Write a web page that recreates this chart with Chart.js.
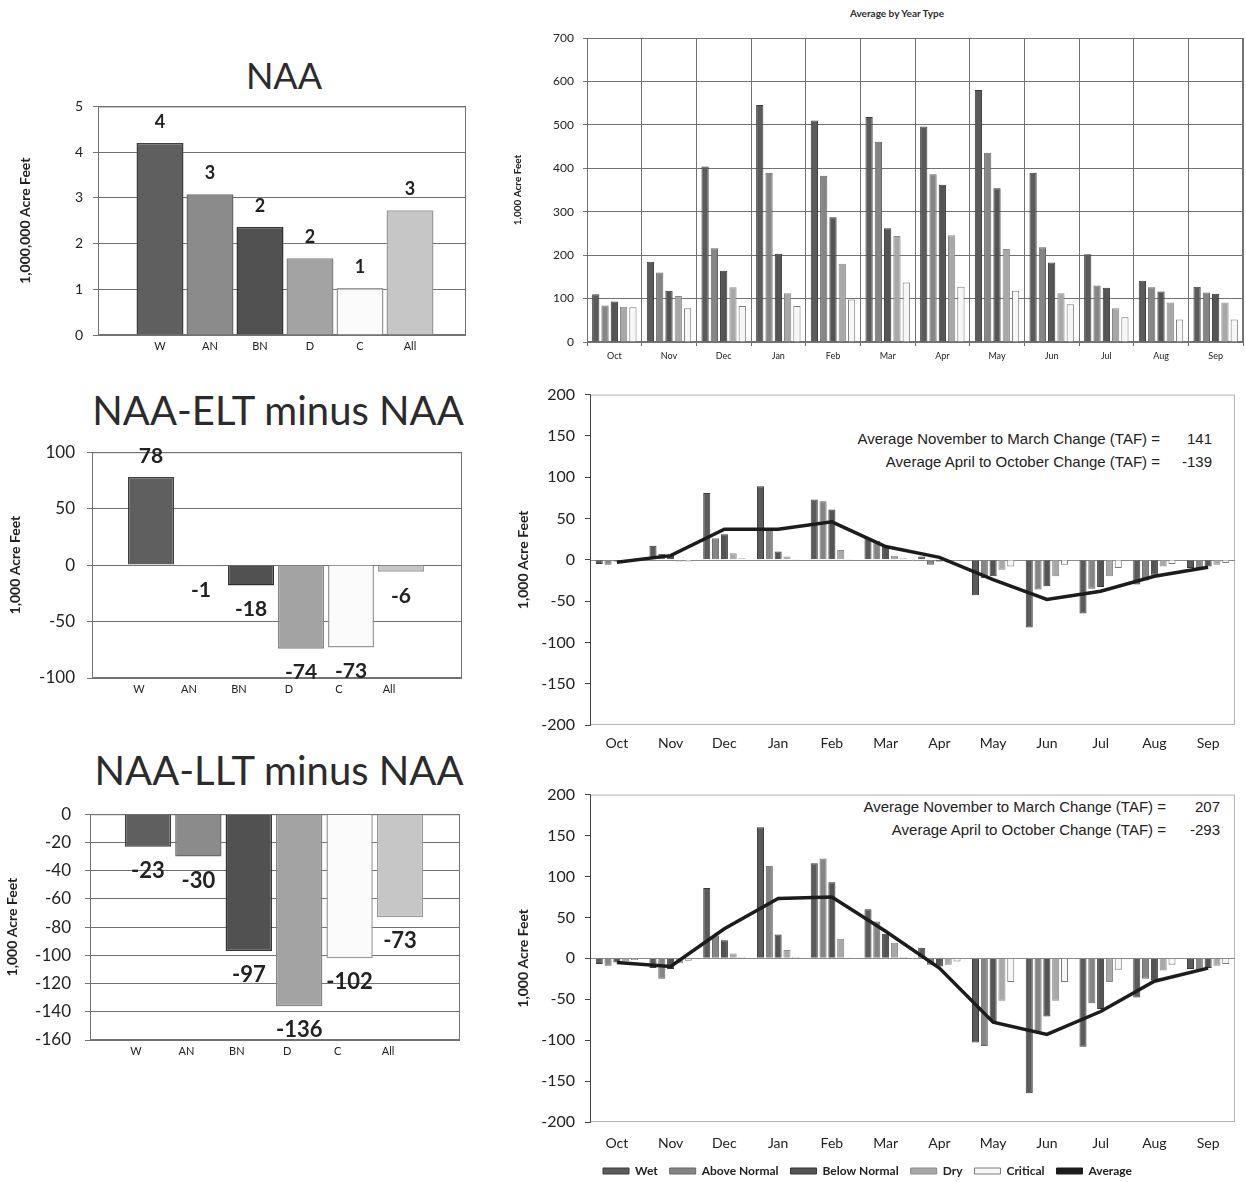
<!DOCTYPE html>
<html>
<head>
<meta charset="utf-8">
<script src="https://cdn.jsdelivr.net/npm/chart.js@4.4.1/dist/chart.umd.min.js"></script>
<style>
  body { margin: 0; background: #fff; width: 1246px; height: 1182px; position: relative; overflow: hidden; }
  canvas { position: absolute; }
  .title { position: absolute; transform: translate(-50%, -50%); white-space: nowrap; color: #2b2b2b; font-family: Lato, sans-serif; }
  .note { position: absolute; transform: translateY(-50%); white-space: nowrap; font-family: "Liberation Sans", Arial, sans-serif; font-size: 15px; color: #222; }
</style>
</head>
<body>
<div class="title" style="left:284px; top:75px; font-size:36px;">NAA</div>
<div class="title" style="left:278px; top:410px; font-size:40px;">NAA-ELT minus NAA</div>
<div class="title" style="left:279px; top:770px; font-size:40px;">NAA-LLT minus NAA</div>
<div class="title" style="left:897px; top:13px; font-size:10px; font-weight:bold;">Average by Year Type</div>

<div class="note" style="right:86px; top:438px;">Average November to March Change (TAF) =</div>
<div class="note" style="right:34px; top:438px;">141</div>
<div class="note" style="right:86px; top:461px;">Average April to October Change (TAF) =</div>
<div class="note" style="right:34px; top:461px;">-139</div>
<div class="note" style="right:80px; top:806px;">Average November to March Change (TAF) =</div>
<div class="note" style="right:26px; top:806px;">207</div>
<div class="note" style="right:80px; top:829px;">Average April to October Change (TAF) =</div>
<div class="note" style="right:26px; top:829px;">-293</div>

<canvas id="naaChart" width="480" height="280" style="left:0; top:88px;"></canvas>
<canvas id="eltChart" width="480" height="280" style="left:0; top:430px;"></canvas>
<canvas id="lltChart" width="480" height="280" style="left:0; top:790px;"></canvas>
<canvas id="monthNaa" width="746" height="368" style="left:500px; top:0;"></canvas>
<canvas id="monthElt" width="746" height="385" style="left:500px; top:375px;"></canvas>
<canvas id="monthLlt" width="746" height="407" style="left:500px; top:775px;"></canvas>

<script>
// Year type totals (left column)
const yearTypes = ['W', 'AN', 'BN', 'D', 'C', 'All'];
const naaTotals = [4.2, 3.08, 2.36, 1.68, 1.03, 2.73];   // 1,000,000 AF
const eltChange = [78, -1, -18, -74, -73, -6];            // 1,000 AF
const lltChange = [-23, -30, -97, -136, -102, -73];       // 1,000 AF

// Monthly values by year type (right column)
const months = ['Oct', 'Nov', 'Dec', 'Jan', 'Feb', 'Mar', 'Apr', 'May', 'Jun', 'Jul', 'Aug', 'Sep'];
const seriesNames = ['Wet', 'Above Normal', 'Below Normal', 'Dry', 'Critical'];

const naaWet      = [110, 185, 404, 546, 510, 518, 496, 580, 390, 202, 141, 127];
const naaAbove    = [84, 160, 216, 390, 383, 461, 386, 436, 218, 130, 126, 114];
const naaBelow    = [93, 118, 164, 203, 287, 262, 362, 354, 183, 125, 116, 111];
const naaDry      = [81, 106, 126, 112, 180, 244, 246, 214, 112, 78, 91, 91];
const naaCritical = [80, 78, 83, 83, 98, 137, 127, 118, 87, 57, 52, 52];

const eltWet      = [-5, 17, 81, 89, 73, 26, 4, -43, -82, -65, -30, -10];
const eltAbove    = [-6, 7, 26, 36, 71, 23, -6, -22, -36, -35, -25, -10];
const eltBelow    = [-2, 5, 31, 10, 61, 16, -2, -20, -32, -33, -18, -8];
const eltDry      = [-1, -2, 8, 4, 12, 5, -3, -12, -20, -20, -8, -6];
const eltCritical = [0, -2, 2, 1, 1, 2, -1, -8, -6, -10, -5, -4];
const eltAverage  = [-3, 5, 37, 37, 46, 16, 3, -24, -48, -38, -20, -9];

const lltWet      = [-7, -12, 86, 160, 116, 60, 13, -103, -165, -108, -48, -13];
const lltAbove    = [-9, -25, 28, 113, 122, 45, -8, -107, -91, -55, -25, -15];
const lltBelow    = [-5, -13, 22, 29, 93, 30, -10, -77, -71, -62, -27, -12];
const lltDry      = [-4, -6, 6, 10, 24, 19, -8, -52, -52, -29, -15, -9];
const lltCritical = [-2, -3, 2, 2, 1, 2, -4, -29, -29, -14, -8, -7];
const lltAverage  = [-5, -10, 36, 73, 75, 33, -12, -78, -93, -65, -28, -12];

// --- styling ---
const catFill = ['#5f5f5f', '#8b8b8b', '#515151', '#a3a3a3', '#fbfbfb', '#c6c6c6'];
const catEdge = ['#3f3f3f', '#6a6a6a', '#333333', '#858585', '#9a9a9a', '#9a9a9a'];
const seriesFill = ['#5b5b5b', '#858585', '#545454', '#a8a8a8', '#f7f7f7'];
const seriesEdge = ['#3c3c3c', '#666666', '#353535', '#8a8a8a', '#7a7a7a'];
const gridGray = '#727272';
const ink = '#222';

// plot frame + optional zero line
const frame = {
  id: 'frame',
  beforeDraw(chart, args, opts) {
    const {left, top, right, bottom} = chart.chartArea;
    const ctx = chart.ctx;
    ctx.save();
    ctx.strokeStyle = opts.color || gridGray;
    ctx.lineWidth = 1;
    ctx.strokeRect(left + 0.5, top + 0.5, right - left - 1, bottom - top - 1);
    if (opts.zeroLine) {
      const y = Math.round(chart.scales.y.getPixelForValue(0)) + 0.5;
      ctx.strokeStyle = opts.zeroLine;
      ctx.beginPath();
      ctx.moveTo(left, y);
      ctx.lineTo(right, y);
      ctx.stroke();
    }
    ctx.restore();
  }
};

// value labels at the end of each bar
const barLabels = {
  id: 'barLabels',
  afterDatasetsDraw(chart, args, opts) {
    if (!opts.show) return;
    const ctx = chart.ctx;
    const ds = chart.data.datasets[0];
    ctx.save();
    ctx.font = opts.font;
    ctx.fillStyle = ink;
    ctx.textAlign = 'center';
    ctx.textBaseline = 'middle';
    chart.getDatasetMeta(0).data.forEach((bar, i) => {
      const v = ds.data[i].y;
      const y = v >= 0 ? bar.y - opts.up : bar.y + opts.down;
      ctx.fillText(String(Math.round(v)), bar.x, y);
    });
    ctx.restore();
  }
};

function leftChart(id, values, yMin, yMax, yStep, xMin, xMax, yTitle, o) {
  return new Chart(document.getElementById(id), {
    type: 'bar',
    data: {
      datasets: [{
        data: values.map((v, i) => ({x: i, y: v})),
        backgroundColor: catFill,
        borderColor: catEdge,
        borderWidth: 1.5,
        categoryPercentage: 1,
        barPercentage: o.barPct
      }]
    },
    options: {
      responsive: false,
      animation: false,
      events: [],
      layout: {padding: o.padding},
      plugins: {
        legend: {display: false},
        tooltip: {enabled: false},
        frame: {color: gridGray},
        barLabels: {show: true, font: o.labelFont, up: 21, down: 24}
      },
      scales: {
        x: {
          type: 'linear', offset: false, min: xMin, max: xMax,
          afterBuildTicks: s => { s.ticks = yearTypes.map((c, i) => ({value: i})); },
          afterFit: s => { s.height = o.xHeight; },
          grid: {display: false, drawTicks: false},
          border: {display: false},
          ticks: {
            callback: v => yearTypes[v], padding: 5, labelOffset: o.labelShift,
            font: {family: 'Lato', size: 11}, color: ink, maxRotation: 0, autoSkip: false
          }
        },
        y: {
          min: yMin, max: yMax,
          ticks: {stepSize: yStep, padding: o.tickPad, font: {family: 'Lato', size: o.tickSize}, color: ink},
          grid: {color: gridGray, tickLength: 5},
          border: {color: gridGray},
          title: {display: true, text: yTitle, font: {family: 'Lato', size: 14, weight: 'bold'}, color: ink, padding: {top: o.titlePad, bottom: 0}},
          afterFit: s => { s.width = o.yWidth; }
        }
      }
    },
    plugins: [frame, barLabels]
  });
}

function monthSets(values, avg) {
  const sets = values.map((v, i) => ({
    type: 'bar',
    label: seriesNames[i],
    data: v,
    backgroundColor: seriesFill[i],
    borderColor: seriesEdge[i],
    borderWidth: 1,
    categoryPercentage: 0.82,
    barPercentage: 0.8,
    order: 1
  }));
  if (avg) {
    sets.push({
      type: 'line', label: 'Average', data: avg,
      borderColor: '#1c1c1c', backgroundColor: '#1c1c1c', borderWidth: 3.5,
      pointRadius: 0, tension: 0, order: 0
    });
  }
  return sets;
}

function changeChart(id, sets, o) {
  return new Chart(document.getElementById(id), {
    type: 'bar',
    data: {labels: months, datasets: sets},
    options: {
      responsive: false,
      animation: false,
      events: [],
      layout: {padding: o.padding},
      plugins: {
        legend: o.legend ? {
          display: true, position: 'bottom', maxHeight: 29,
          labels: {
            boxWidth: 26, boxHeight: 6, padding: 12, color: ink,
            font: {family: 'Lato', size: 12, weight: 'bold'},
            sort: (a, b) => a.datasetIndex - b.datasetIndex,
            generateLabels: chart => Chart.defaults.plugins.legend.labels.generateLabels(chart)
              .map(item => Object.assign(item, {lineWidth: Math.min(item.lineWidth, 1)}))
          }
        } : {display: false},
        tooltip: {enabled: false},
        frame: {color: '#b5b5b5', zeroLine: '#8a8a8a'}
      },
      scales: {
        x: {
          grid: {display: false, drawTicks: false},
          border: {display: false},
          ticks: {padding: o.xPad, font: {family: 'Lato', size: 14}, color: ink, maxRotation: 0},
          afterFit: s => { s.height = o.xHeight; }
        },
        y: {
          min: -200, max: 200,
          ticks: {stepSize: 50, padding: 10, font: {family: 'Lato', size: 16}, color: ink},
          grid: {drawOnChartArea: false, color: '#444', tickLength: 5},
          border: {color: '#444'},
          title: {display: true, text: '1,000 Acre Feet', font: {family: 'Lato', size: 14, weight: 'bold'}, color: ink, padding: {top: 15, bottom: 0}},
          afterFit: s => { s.width = 90; }
        }
      }
    },
    plugins: [frame]
  });
}

// Left column
leftChart('naaChart', naaTotals, 0, 5, 1, -1.24, 6.12, '1,000,000 Acre Feet', {
  barPct: 0.94, padding: {top: 13, right: 14, left: 0, bottom: 0},
  labelFont: 'bold 18px Lato', labelShift: 0, xHeight: 33,
  tickPad: 10, tickSize: 14, titlePad: 17, yWidth: 98
});
leftChart('eltChart', eltChange, -100, 100, 50, -1.18, 6.22, '1,000 Acre Feet', {
  barPct: 0.92, padding: {top: 13, right: 18, left: 0, bottom: 0},
  labelFont: 'bold 21px Lato', labelShift: -12, xHeight: 32,
  tickPad: 12, tickSize: 17, titlePad: 7, yWidth: 92
});
leftChart('lltChart', lltChange, -160, 0, 20, -1.15, 6.19, '1,000 Acre Feet', {
  barPct: 0.92, padding: {top: 15, right: 20, left: 0, bottom: 0},
  labelFont: 'bold 22px Lato', labelShift: -12, xHeight: 30,
  tickPad: 14, tickSize: 17, titlePad: 4, yWidth: 90
});

// Right column: monthly averages
new Chart(document.getElementById('monthNaa'), {
  type: 'bar',
  data: {labels: months, datasets: monthSets([naaWet, naaAbove, naaBelow, naaDry, naaCritical]).map(d => Object.assign(d, {categoryPercentage: 0.85, barPercentage: 0.78}))},
  options: {
    responsive: false,
    animation: false,
    events: [],
    layout: {padding: {top: 38, right: 3, left: 0, bottom: 0}},
    plugins: {legend: {display: false}, tooltip: {enabled: false}, frame: {color: gridGray}},
    scales: {
      x: {
        grid: {color: gridGray, tickLength: 4},
        border: {color: gridGray},
        ticks: {padding: 5, font: {family: 'Lato', size: 9}, color: ink, maxRotation: 0},
        afterFit: s => { s.height = 26; }
      },
      y: {
        min: 0, max: 700,
        ticks: {stepSize: 100, padding: 9, font: {family: 'Lato', size: 12}, color: ink},
        grid: {color: gridGray, tickLength: 4},
        border: {color: gridGray},
        title: {display: true, text: '1,000 Acre Feet', font: {family: 'Lato', size: 10, weight: 'bold'}, color: ink, padding: {top: 12, bottom: 0}},
        afterFit: s => { s.width = 87; }
      }
    }
  },
  plugins: [frame]
});

changeChart('monthElt', monthSets([eltWet, eltAbove, eltBelow, eltDry, eltCritical], eltAverage), {
  padding: {top: 12, right: 11, left: 0, bottom: 0}, xHeight: 35, xPad: 10, legend: false
});
changeChart('monthLlt', monthSets([lltWet, lltAbove, lltBelow, lltDry, lltCritical], lltAverage), {
  padding: {top: 12, right: 11, left: 0, bottom: 0}, xHeight: 31, xPad: 13, legend: true
});
</script>
</body>
</html>
